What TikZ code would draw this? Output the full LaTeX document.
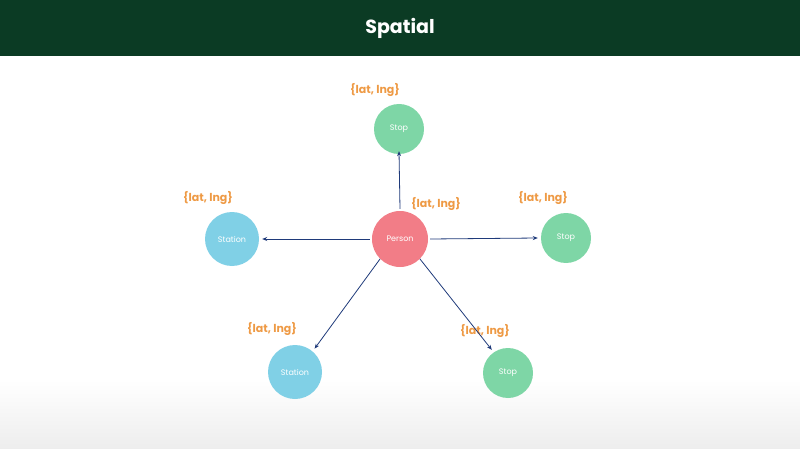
\documentclass[tikz,border=0pt]{standalone}
\usepackage{fontspec}
\setmainfont{Poppins}
\usetikzlibrary{arrows.meta,calc}
\definecolor{hdr}{HTML}{0B3B24}
\definecolor{pers}{HTML}{F27D87}
\definecolor{stopc}{HTML}{7ED6A6}
\definecolor{stat}{HTML}{80D0E6}
\definecolor{lbl}{HTML}{EE9A45}
\definecolor{arr}{HTML}{1F3A7A}
\tikzset{
 circ/.style={circle,minimum size=#1,inner sep=0pt,text=white,font=\fontsize{8}{9}\selectfont},
 stopn/.style={circ=50pt,fill=stopc},
 statn/.style={circ=54pt,fill=stat},
 persn/.style={circ=56pt,fill=pers},
 lab/.style={text=lbl,font=\bfseries\fontsize{11}{12}\selectfont},
 con/.style={draw=arr,line width=0.8pt,-{Stealth[length=5pt,width=4pt]}}
}
\begin{document}
\begin{tikzpicture}[x=1pt,y=-1pt]
\useasboundingbox (0,0) rectangle (800,449);
\shade[top color=white,bottom color=black!7] (0,380) rectangle (800,449);
\fill[hdr] (0,0) rectangle (800,56);
\node[text=white,font=\bfseries\fontsize{19}{22}\selectfont] (title) at (400,28) {Spatial};
\node[persn] (p) at (400,239) {Person};
\node[stopn] (s1) at (399,129) {Stop};
\node[statn] (t1) at (232,239) {Station};
\node[stopn] (s2) at (566,238) {Stop};
\node[statn] (t2) at (295,372) {Station};
\node[stopn] (s3) at (508,373) {Stop};
\node[lab] (l1) at (375,90) {\{lat, lng\}};
\node[lab] (l2) at (208,198) {\{lat, lng\}};
\node[lab] (l3) at (436,204) {\{lat, lng\}};
\node[lab] (l4) at (543,198) {\{lat, lng\}};
\node[lab] (l5) at (272,329) {\{lat, lng\}};
\node[lab] (l6) at (485,331) {\{lat, lng\}};
\draw[con] ([yshift=2pt]p.north) -- ([yshift=3pt]s1.south);
\draw[con] ([xshift=-2pt]p.west) -- ([xshift=3pt]t1.east);
\draw[con] ([xshift=2pt]p.east) -- ([xshift=-3pt]s2.west);
\draw[con] (p.-135) -- ($(t2)!1.12!(t2.50)$);
\draw[con] (p.-45) -- ($(s3)!1.12!(s3.125)$);
\end{tikzpicture}
\end{document}
